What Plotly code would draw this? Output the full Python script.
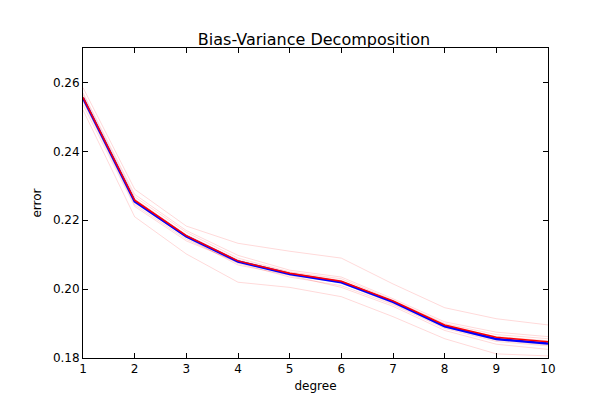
import plotly.graph_objects as go

degree = [1, 2, 3, 4, 5, 6, 7, 8, 9, 10]
mean_err = [0.2557, 0.2258, 0.2155, 0.2082, 0.2046, 0.2023, 0.1966, 0.1896, 0.1860, 0.1847]
bias_err = [0.2555, 0.2255, 0.2153, 0.2080, 0.2044, 0.2020, 0.1963, 0.1892, 0.1855, 0.1842]
runs = [
    [0.2585, 0.2290, 0.2183, 0.2133, 0.2110, 0.2090, 0.2015, 0.1946, 0.1914, 0.1896],
    [0.2520, 0.2210, 0.2102, 0.2020, 0.2005, 0.1978, 0.1920, 0.1856, 0.1812, 0.1806],
    [0.2570, 0.2275, 0.2170, 0.2098, 0.2055, 0.2035, 0.1972, 0.1905, 0.1875, 0.1862],
    [0.2545, 0.2245, 0.2145, 0.2075, 0.2035, 0.2010, 0.1955, 0.1886, 0.1848, 0.1835],
    [0.2565, 0.2268, 0.2165, 0.2090, 0.2050, 0.2030, 0.1968, 0.1900, 0.1868, 0.1856],
    [0.2550, 0.2250, 0.2150, 0.2070, 0.2040, 0.2005, 0.1950, 0.1880, 0.1840, 0.1825],
    [0.2560, 0.2262, 0.2158, 0.2085, 0.2048, 0.2025, 0.1962, 0.1893, 0.1862, 0.1850],
    [0.2535, 0.2240, 0.2140, 0.2078, 0.2042, 0.2018, 0.1958, 0.1890, 0.1852, 0.1838],
]

fig = go.Figure()
for r in runs:
    fig.add_trace(go.Scatter(x=degree, y=r, mode="lines",
                             line=dict(color="rgba(255,0,0,0.15)", width=1), showlegend=False))
fig.add_trace(go.Scatter(x=degree, y=bias_err, mode="lines",
                         line=dict(color="blue", width=2.5), showlegend=False))
fig.add_trace(go.Scatter(x=degree, y=mean_err, mode="lines",
                         line=dict(color="red", width=1.5), showlegend=False))

ax = dict(showline=True, linecolor="black", linewidth=1, mirror="ticks", ticks="inside",
          ticklen=5, tickcolor="black", showgrid=False, zeroline=False, automargin=False,
          tickfont=dict(size=12, color="black"))
fig.update_layout(
    width=600, height=400, plot_bgcolor="white", paper_bgcolor="white",
    font=dict(family="DejaVu Sans", color="black"),
    margin=dict(l=75, r=60, t=40, b=50),
    title=dict(text="Bias-Variance Decomposition", x=0.51, xanchor="center", y=0.935,
               font=dict(size=16)),
    xaxis=dict(ax, range=[1, 10], dtick=1, title=dict(text="degree", font=dict(size=12), standoff=6)),
    yaxis=dict(ax, range=[0.18, 0.27], tickvals=[0.18, 0.20, 0.22, 0.24, 0.26],
               tickformat=".2f", title=dict(text="error", font=dict(size=12), standoff=8)),
)
fig.write_html("out.html")
